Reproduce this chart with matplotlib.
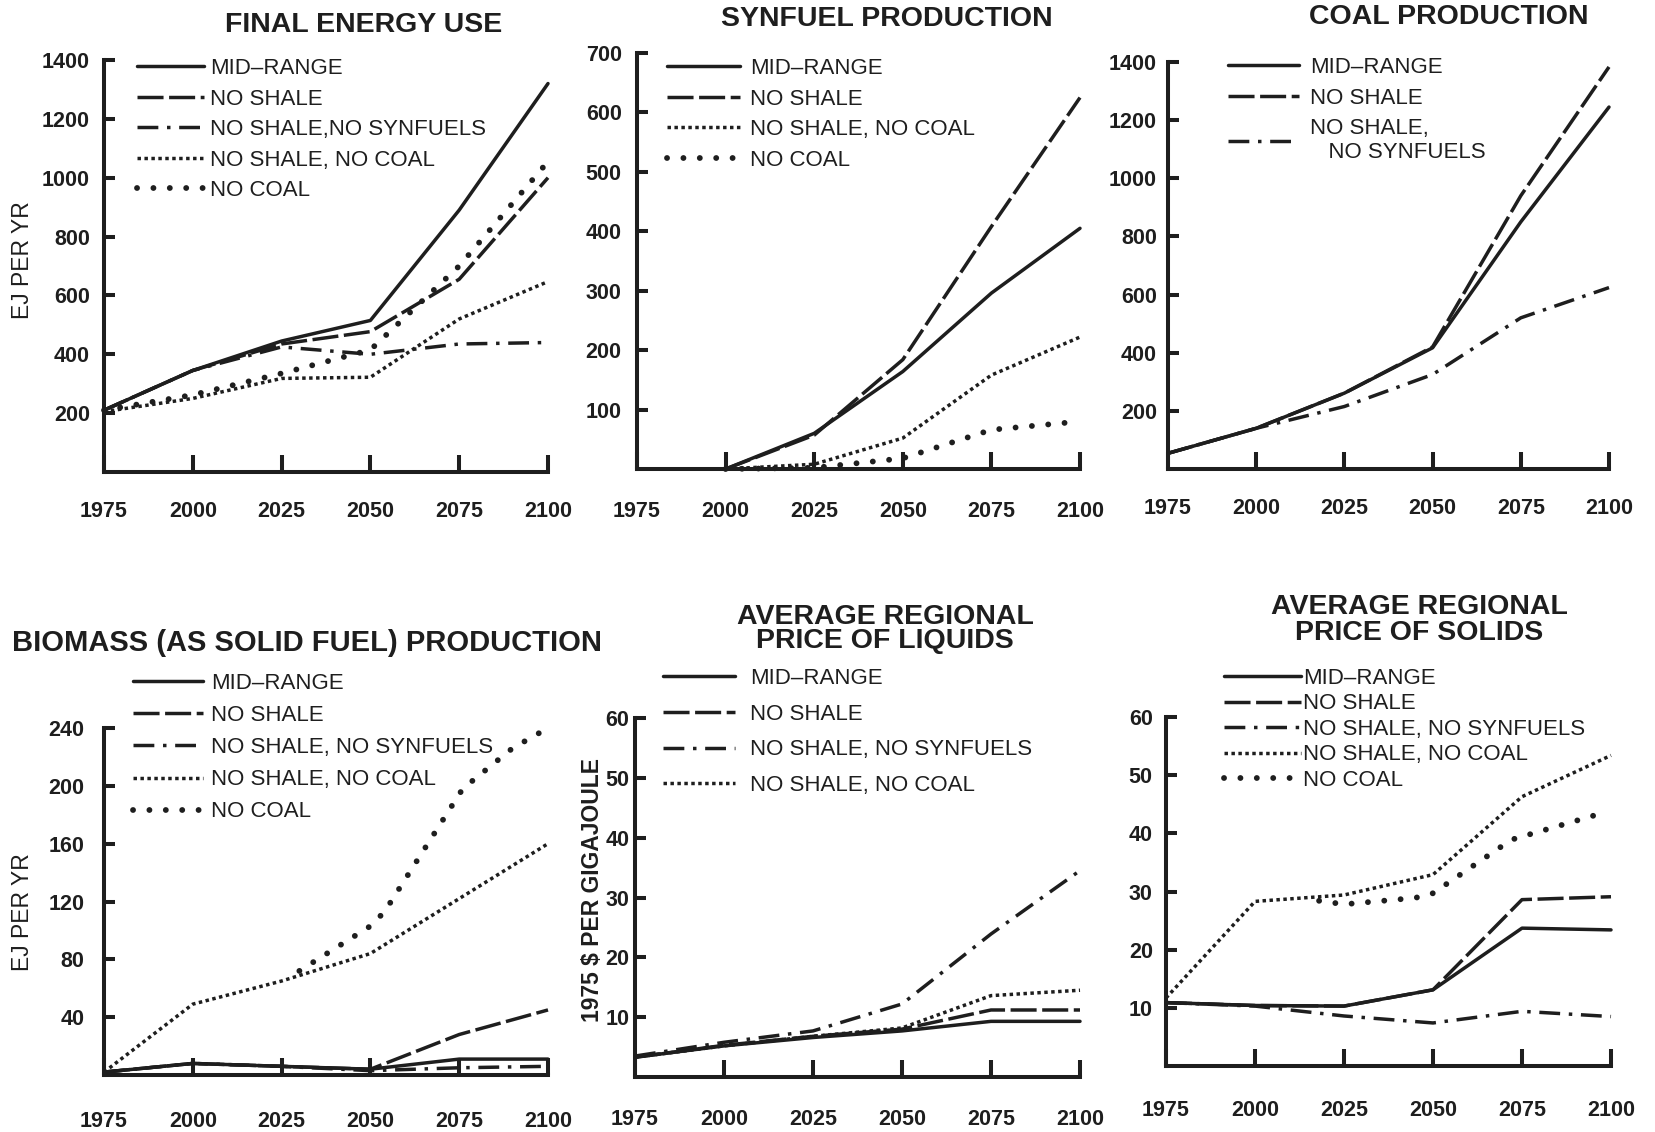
import numpy as np
import matplotlib
matplotlib.use("Agg")
import matplotlib.pyplot as plt

plt.rcParams['font.family'] = ['Liberation Sans', 'DejaVu Sans']

years = [1975, 2000, 2025, 2050, 2075, 2100]
xtick_years = [1975, 2000, 2025, 2050, 2075, 2100]

# final energy use, EJ per yr
fe_mid = [210, 345, 445, 515, 890, 1320]
fe_noshale = [210, 345, 435, 477, 655, 1000]
fe_nosyn = [210, 345, 425, 400, 435, 440]
fe_noshale_nocoal = [205, 250, 318, 322, 520, 647]
fe_nocoal = [210, 262, 335, 415, 700, 1055]

# synfuel production
syn_years = [2000, 2025, 2050, 2075, 2100]
syn_mid = [0, 60, 164, 296, 405]
syn_noshale = [0, 57, 184, 408, 625]
syn_noshale_nocoal = [0, 8, 52, 158, 222]
syn_nocoal = [0, 2, 18, 66, 80]

# coal production
coal_mid = [54, 140, 261, 417, 850, 1245]
coal_noshale = [54, 140, 261, 420, 940, 1383]
coal_nosyn = [54, 140, 215, 325, 520, 624]

# biomass production
bio_mid = [2, 8, 6, 4, 11, 11]
bio_noshale = [2, 8, 6, 4, 28, 45]
bio_nosyn = [2, 8, 6, 3, 5, 6]
bio_noshale_nocoal = [2, 49, 65, 84, 122, 160]
bio_nocoal_years = [2030, 2050, 2054, 2076, 2090, 2100]
bio_nocoal = [72, 103, 113, 198, 226, 240]

# price of liquids
liq_mid = [3.3, 5.2, 6.6, 7.7, 9.3, 9.3]
liq_noshale = [3.3, 5.3, 6.8, 8.0, 11.2, 11.2]
liq_nosyn = [3.5, 5.8, 7.7, 12.2, 23.9, 34.5]
liq_noshale_nocoal = [3.3, 5.2, 6.8, 8.2, 13.6, 14.5]

# price of solids
sol_mid = [10.9, 10.4, 10.3, 13.1, 23.7, 23.4]
sol_noshale = [10.9, 10.4, 10.3, 13.1, 28.6, 29.1]
sol_nosyn = [10.9, 10.3, 8.6, 7.4, 9.4, 8.5]
sol_noshale_nocoal = [11.7, 28.3, 29.4, 32.9, 46.3, 53.4]
sol_nocoal_years = [2018, 2025, 2045, 2050, 2072, 2096]
sol_nocoal = [28.4, 27.8, 28.9, 29.7, 38.9, 43.2]

INK = '#1e1e1e'
W, H = 1656, 1132
LW = 2.5

styles = {
    'MID\u2013RANGE': dict(ls='-'),
    'NO SHALE': dict(ls=(0, (7.5, 1.6))),
    'NO SHALE, NO SYNFUELS': dict(ls=(0, (6, 2.5, 1, 2.5))),
    'NO SHALE, NO COAL': dict(ls=(0, (1, 1))),
    'NO COAL': dict(ls=(0, (0.01, 2.8)), lw=4.2, cap='round'),
}

fig = plt.figure(figsize=(W / 100, H / 100), dpi=100)


def make_ax(x0, x1, y0, ytop, ymax, yticks, xpad, ypad):
    ax = fig.add_axes([x0 / W, 1 - y0 / H, (x1 - x0) / W, (y0 - ytop) / H])
    ax.set_xlim(1975, 2100)
    ax.set_ylim(0, ymax)
    for s in ['top', 'right']:
        ax.spines[s].set_visible(False)
    for s in ['left', 'bottom']:
        ax.spines[s].set_linewidth(2.9)
        ax.spines[s].set_color(INK)
    ax.set_yticks(yticks)
    ax.set_xticks(xtick_years)
    ax.tick_params(axis='y', direction='in', length=8, width=2.9, pad=ypad, colors=INK,
                   labelsize=15.5)
    ax.tick_params(axis='x', direction='in', length=12, width=2.9, pad=xpad, colors=INK,
                   labelsize=15.5)
    for lab in ax.get_xticklabels() + ax.get_yticklabels():
        lab.set_fontweight('bold')
    return ax


def line(ax, x, y, key):
    st = styles[key]
    return ax.plot(x, y, color=INK, lw=st.get('lw', LW), ls=st['ls'],
                   solid_capstyle='round', dash_capstyle=st.get('cap', 'butt'),
                   solid_joinstyle='round', clip_on=False, label=key)[0]


def legend(ax, handles, labels, x, y, spacing, hlen, tpad):
    ax.legend(handles, labels, loc='upper left', bbox_to_anchor=(x / W, 1 - y / H),
              bbox_transform=fig.transFigure, frameon=False, borderpad=0,
              borderaxespad=0, handlelength=hlen, handletextpad=tpad,
              labelspacing=spacing, fontsize=16, labelcolor=INK)


def title(x, y, text, size=20.5):
    fig.text(x / W, 1 - y / H, text, ha='center', va='center', fontsize=size,
             fontweight='bold', color=INK, linespacing=0.95)


def ylabel(x, y, text, weight='normal'):
    fig.text(x / W, 1 - y / H, text, rotation=90, ha='center', va='center',
             fontsize=16.5, color=INK, fontweight=weight)


# FINAL ENERGY USE
ax1 = make_ax(104, 548, 472, 60, 1400, [200, 400, 600, 800, 1000, 1200, 1400], 21, 10)
h = [line(ax1, years, fe_mid, 'MID\u2013RANGE'),
     line(ax1, years, fe_noshale, 'NO SHALE'),
     line(ax1, years, fe_nosyn, 'NO SHALE, NO SYNFUELS'),
     line(ax1, years, fe_noshale_nocoal, 'NO SHALE, NO COAL'),
     line(ax1, years, fe_nocoal, 'NO COAL')]
legend(ax1, h, ['MID\u2013RANGE', 'NO SHALE', 'NO SHALE,NO SYNFUELS',
                'NO SHALE, NO COAL', 'NO COAL'], 137, 58, 0.43, 3.0, 0.3)
title(364, 25, 'FINAL ENERGY USE')
ylabel(23, 260, 'EJ PER YR')

# SYNFUEL PRODUCTION
ax2 = make_ax(637, 1080, 469, 53, 700, [100, 200, 300, 400, 500, 600, 700], 23, 11)
h = [line(ax2, syn_years, syn_mid, 'MID\u2013RANGE'),
     line(ax2, syn_years, syn_noshale, 'NO SHALE'),
     line(ax2, syn_years, syn_noshale_nocoal, 'NO SHALE, NO COAL'),
     line(ax2, syn_years, syn_nocoal, 'NO COAL')]
legend(ax2, h, ['MID\u2013RANGE', 'NO SHALE', 'NO SHALE, NO COAL', 'NO COAL'],
       667, 58, 0.43, 3.3, 0.45)
title(887, 19, 'SYNFUEL PRODUCTION')

# COAL PRODUCTION
ax3 = make_ax(1168, 1609, 469, 62, 1400, [200, 400, 600, 800, 1000, 1200, 1400], 21, 8)
h = [line(ax3, years, coal_mid, 'MID\u2013RANGE'),
     line(ax3, years, coal_noshale, 'NO SHALE'),
     line(ax3, years, coal_nosyn, 'NO SHALE, NO SYNFUELS')]
legend(ax3, h, ['MID\u2013RANGE', 'NO SHALE', 'NO SHALE,\n   NO SYNFUELS'],
       1228, 57, 0.43, 3.2, 0.5)
title(1449, 17, 'COAL PRODUCTION')

# BIOMASS
ax4 = make_ax(104, 548, 1075, 728, 240, [40, 80, 120, 160, 200, 240], 26, 14)
h = [line(ax4, years, bio_mid, 'MID\u2013RANGE'),
     line(ax4, years, bio_noshale, 'NO SHALE'),
     line(ax4, years, bio_nosyn, 'NO SHALE, NO SYNFUELS'),
     line(ax4, years, bio_noshale_nocoal, 'NO SHALE, NO COAL'),
     line(ax4, bio_nocoal_years, bio_nocoal, 'NO COAL')]
legend(ax4, h, ['MID\u2013RANGE', 'NO SHALE', 'NO SHALE, NO SYNFUELS',
                'NO SHALE, NO COAL', 'NO COAL'], 133, 673, 0.5, 3.15, 0.35)
title(307, 643, 'BIOMASS (AS SOLID FUEL) PRODUCTION', size=21)
ylabel(23, 912, 'EJ PER YR')

# PRICE OF LIQUIDS
ax5 = make_ax(635, 1080, 1077, 718, 60, [10, 20, 30, 40, 50, 60], 23, 4)
h = [line(ax5, years, liq_mid, 'MID\u2013RANGE'),
     line(ax5, years, liq_noshale, 'NO SHALE'),
     line(ax5, years, liq_nosyn, 'NO SHALE, NO SYNFUELS'),
     line(ax5, years, liq_noshale_nocoal, 'NO SHALE, NO COAL')]
legend(ax5, h, ['MID\u2013RANGE', 'NO SHALE', 'NO SHALE, NO SYNFUELS', 'NO SHALE, NO COAL'],
       663, 668, 0.66, 3.25, 0.65)
title(885, 629, 'AVERAGE REGIONAL\nPRICE OF LIQUIDS')
ylabel(593, 890, '1975 $ PER GIGAJOULE', weight='bold')

# PRICE OF SOLIDS
ax6 = make_ax(1166, 1611, 1066, 717, 60, [10, 20, 30, 40, 50, 60], 24.5, 9.5)
h = [line(ax6, years, sol_mid, 'MID\u2013RANGE'),
     line(ax6, years, sol_noshale, 'NO SHALE'),
     line(ax6, years, sol_nosyn, 'NO SHALE, NO SYNFUELS'),
     line(ax6, years, sol_noshale_nocoal, 'NO SHALE, NO COAL'),
     line(ax6, sol_nocoal_years, sol_nocoal, 'NO COAL')]
legend(ax6, h, ['MID\u2013RANGE', 'NO SHALE', 'NO SHALE, NO SYNFUELS',
                'NO SHALE, NO COAL', 'NO COAL'], 1224, 668, 0.2, 3.45, 0.1)
title(1419, 620, 'AVERAGE REGIONAL\nPRICE OF SOLIDS')

fig.savefig('out.png', dpi=100, facecolor='white')
